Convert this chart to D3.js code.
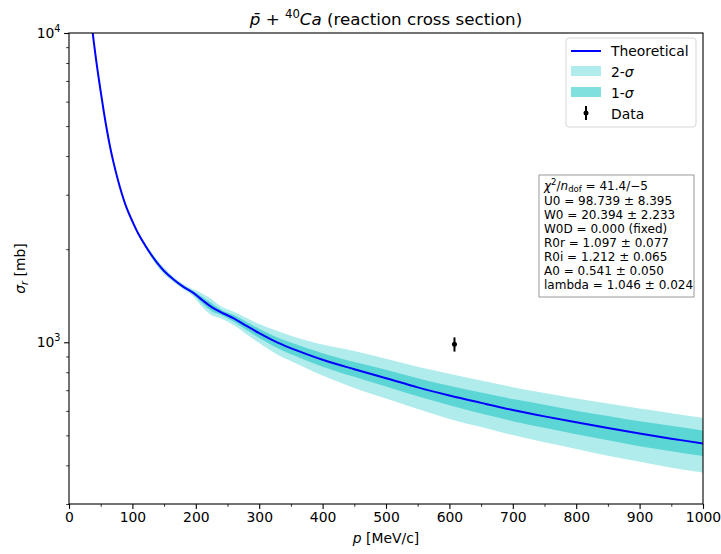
<!DOCTYPE html>
<html>
<head>
<meta charset="utf-8">
<script src="https://cdn.jsdelivr.net/npm/d3@7"></script>
<style>
  html, body { margin: 0; padding: 0; background: #fff; }
  svg { display: block; font-family: "DejaVu Sans", sans-serif; }
</style>
</head>
<body>
<svg id="chart" width="721" height="554"></svg>
<script>
// ---- Data ----
const curveP = [36,40,45,50,55,60,65,70,80,90,100,110,120,130,140,150,165,180,195,210,225,240,260,280,300,330,360,400,450,500,550,600,650,700,750,800,850,900,950,1000];
const curveSigma = [10590,9050,7580,6466,5552,4830,4265,3831,3190,2751,2460,2230,2060,1915,1795,1700,1595,1513,1450,1370,1300,1250,1195,1130,1070,995,940,878,818,765,715,673,637,604,576,551,528,507,488,471];

const bandP = [100,110,120,130,140,150,165,180,195,210,225,240,260,280,300,330,360,400,450,500,550,600,650,700,750,800,850,900,950,1000];
const upper2 = [2485,2252,2091,1953,1840,1743,1627,1543,1486,1439,1378,1306,1255,1198,1145,1085,1034,983,937,884,833,791,752,716,685,658,634,611,590,570];
const upper1 = [2472,2241,2076,1934,1817,1720,1611,1528,1467,1404,1339,1275,1225,1164,1107,1035,982,922,863,815,765,723,688,655,628,601,578,555,537,518];
const lower1 = [2448,2219,2044,1896,1773,1680,1579,1498,1433,1336,1261,1225,1165,1096,1033,955,898,834,773,719,669,626,589,556,529,504,482,461,444,428];
const lower2 = [2435,2208,2029,1877,1750,1658,1563,1483,1414,1302,1222,1194,1135,1062,995,910,851,781,712,658,608,565,532,501,475,452,430,411,393,379];

const dataP = [608];
const dataSigma = [985];
const dataErr = [52];

const xTicks = [0,100,200,300,400,500,600,700,800,900,1000];
const xMinorTicks = [50,150,250,350,450,550,650,750,850,950];
const yMajorTicks = [1000, 10000];
const yMinorTicks = [300,400,500,600,700,800,900,2000,3000,4000,5000,6000,7000,8000,9000];

const statsLines = [
  "U0 = 98.739 ± 8.395",
  "W0 = 20.394 ± 2.233",
  "W0D = 0.000 (fixed)",
  "R0r = 1.097 ± 0.077",
  "R0i = 1.212 ± 0.065",
  "A0 = 0.541 ± 0.050",
  "lambda = 1.046 ± 0.024"
];

// ---- Layout ----
const L = 69, R = 703, T = 33, B = 504;
const svg = d3.select("#chart");

const x = d3.scaleLinear().domain([0, 1000]).range([L, R]);
const y = d3.scaleLog().domain([300, 10000]).range([B, T]);

const c2 = "#b1ecec";
const c1 = "#5cd5d5";
const c1legend = "#7fe0de";
const smooth = d3.curveCatmullRom.alpha(0.5);

svg.append("defs").append("clipPath").attr("id", "clip")
  .append("rect").attr("x", L).attr("y", T).attr("width", R - L).attr("height", B - T);

const plot = svg.append("g").attr("clip-path", "url(#clip)");

const bandRows = bandP.map((p, i) => ({p, u2: upper2[i], u1: upper1[i], l1: lower1[i], l2: lower2[i]}));

const area2 = d3.area().x(d => x(d.p)).y0(d => y(d.l2)).y1(d => y(d.u2)).curve(smooth);
const area1 = d3.area().x(d => x(d.p)).y0(d => y(d.l1)).y1(d => y(d.u1)).curve(smooth);

plot.append("path").datum(bandRows).attr("d", area2).attr("fill", c2);
plot.append("path").datum(bandRows).attr("d", area1).attr("fill", c1);

const curveRows = curveP.map((p, i) => ({p, s: curveSigma[i]}));
plot.append("path").datum(curveRows)
  .attr("d", d3.line().x(d => x(d.p)).y(d => y(d.s)).curve(smooth))
  .attr("fill", "none").attr("stroke", "#0000ff").attr("stroke-width", 2);

// data point with error bar
dataP.forEach((p, i) => {
  plot.append("line")
    .attr("x1", x(p)).attr("x2", x(p))
    .attr("y1", y(dataSigma[i] - dataErr[i])).attr("y2", y(dataSigma[i] + dataErr[i]))
    .attr("stroke", "#000").attr("stroke-width", 2);
  plot.append("circle").attr("cx", x(p)).attr("cy", y(dataSigma[i])).attr("r", 2.5).attr("fill", "#000");
});

// ---- Axes ----
const axisColor = "#000";
const xAxis = d3.axisBottom(x).tickValues(xTicks).tickFormat(d3.format("d")).tickSize(4.9).tickPadding(3.5);
const gx = svg.append("g").attr("transform", `translate(0,${B})`).call(xAxis);
gx.select(".domain").remove();
gx.selectAll("text").attr("font-size", 13.9).attr("font-family", "DejaVu Sans").attr("fill", "#000");
gx.selectAll("line").attr("stroke", axisColor).attr("stroke-width", 1.1);

const gxm = svg.append("g").attr("transform", `translate(0,${B})`)
  .call(d3.axisBottom(x).tickValues(xMinorTicks).tickFormat("").tickSize(2.8));
gxm.select(".domain").remove();
gxm.selectAll("line").attr("stroke", axisColor).attr("stroke-width", 0.8);

const gy = svg.append("g").attr("transform", `translate(${L},0)`)
  .call(d3.axisLeft(y).tickValues(yMajorTicks).tickFormat("").tickSize(4.9));
gy.select(".domain").remove();
gy.selectAll("line").attr("stroke", axisColor).attr("stroke-width", 1.1);

const gym = svg.append("g").attr("transform", `translate(${L},0)`)
  .call(d3.axisLeft(y).tickValues(yMinorTicks).tickFormat("").tickSize(2.8));
gym.select(".domain").remove();
gym.selectAll("line").attr("stroke", axisColor).attr("stroke-width", 0.8);

// y tick labels as 10^n
yMajorTicks.forEach(v => {
  const t = svg.append("text").attr("x", L - 8.5).attr("y", y(v) + 5)
    .attr("text-anchor", "end").attr("font-size", 13.9).attr("fill", "#000");
  t.append("tspan").text("10");
  t.append("tspan").text(String(Math.round(Math.log10(v)))).attr("font-size", 9.7).attr("dy", -6);
});

// frame
svg.append("rect").attr("x", L).attr("y", T).attr("width", R - L).attr("height", B - T)
  .attr("fill", "none").attr("stroke", "#000").attr("stroke-width", 1.1);

// ---- Labels ----
const title = svg.append("text").attr("x", (L + R) / 2).attr("y", 25)
  .attr("text-anchor", "middle").attr("font-size", 16.7).attr("fill", "#000");
title.append("tspan").text("p\u0304").attr("font-style", "italic");
title.append("tspan").text(" + ");
title.append("tspan").text("40").attr("font-size", 11.7).attr("dy", -7);
title.append("tspan").text("Ca").attr("font-style", "italic").attr("dy", 7);
title.append("tspan").text(" (reaction cross section)");

const xl = svg.append("text").attr("x", (L + R) / 2).attr("y", 543)
  .attr("text-anchor", "middle").attr("font-size", 13.9).attr("fill", "#000");
xl.append("tspan").text("p").attr("font-style", "italic");
xl.append("tspan").text(" [MeV/c]");

const yl = svg.append("text").attr("transform", `translate(25,${(T + B) / 2}) rotate(-90)`)
  .attr("text-anchor", "middle").attr("font-size", 13.9).attr("fill", "#000");
yl.append("tspan").text("σ").attr("font-style", "italic");
yl.append("tspan").text("r").attr("font-style", "italic").attr("font-size", 9.7).attr("dy", 3);
yl.append("tspan").text(" [mb]").attr("dy", -3);

// ---- Legend ----
const lg = svg.append("g");
lg.append("rect").attr("x", 566).attr("y", 38).attr("width", 130).attr("height", 89)
  .attr("rx", 3).attr("fill", "#fff").attr("fill-opacity", 0.8).attr("stroke", "#d6d6d6").attr("stroke-width", 1);
const lx0 = 571, lx1 = 601, tx = 611;
lg.append("line").attr("x1", lx0).attr("x2", lx1).attr("y1", 51).attr("y2", 51)
  .attr("stroke", "#0000ff").attr("stroke-width", 2);
lg.append("text").attr("x", tx).attr("y", 56).attr("font-size", 13.9).text("Theoretical");
lg.append("rect").attr("x", lx0).attr("y", 66).attr("width", lx1 - lx0).attr("height", 10).attr("fill", c2);
const t2 = lg.append("text").attr("x", tx).attr("y", 77).attr("font-size", 13.9);
t2.append("tspan").text("2-"); t2.append("tspan").text("σ").attr("font-style", "italic");
lg.append("rect").attr("x", lx0).attr("y", 87).attr("width", lx1 - lx0).attr("height", 10).attr("fill", c1legend);
const t1 = lg.append("text").attr("x", tx).attr("y", 98).attr("font-size", 13.9);
t1.append("tspan").text("1-"); t1.append("tspan").text("σ").attr("font-style", "italic");
lg.append("line").attr("x1", 586).attr("x2", 586).attr("y1", 106).attr("y2", 120)
  .attr("stroke", "#000").attr("stroke-width", 2);
lg.append("circle").attr("cx", 586).attr("cy", 113).attr("r", 2.5).attr("fill", "#000");
lg.append("text").attr("x", tx).attr("y", 119).attr("font-size", 13.9).text("Data");

// ---- Stats box ----
const sb = svg.append("g");
sb.append("rect").attr("x", 539).attr("y", 175).attr("width", 155).attr("height", 122)
  .attr("fill", "#fff").attr("fill-opacity", 0.8).attr("stroke", "#999").attr("stroke-width", 1);
const fs = 12;
const first = sb.append("text").attr("x", 544).attr("y", 190).attr("font-size", fs);
first.append("tspan").text("χ").attr("font-style", "italic");
first.append("tspan").text("2").attr("font-size", 8.5).attr("dy", -5);
first.append("tspan").text("/").attr("dy", 5);
first.append("tspan").text("n").attr("font-style", "italic");
first.append("tspan").text("dof").attr("font-size", 8.5).attr("dy", 2);
first.append("tspan").text(" = 41.4/−5").attr("dy", -2);
statsLines.forEach((s, i) => {
  sb.append("text").attr("x", 544).attr("y", 191 + 14 * (i + 1)).attr("font-size", fs).text(s);
});
</script>
</body>
</html>
